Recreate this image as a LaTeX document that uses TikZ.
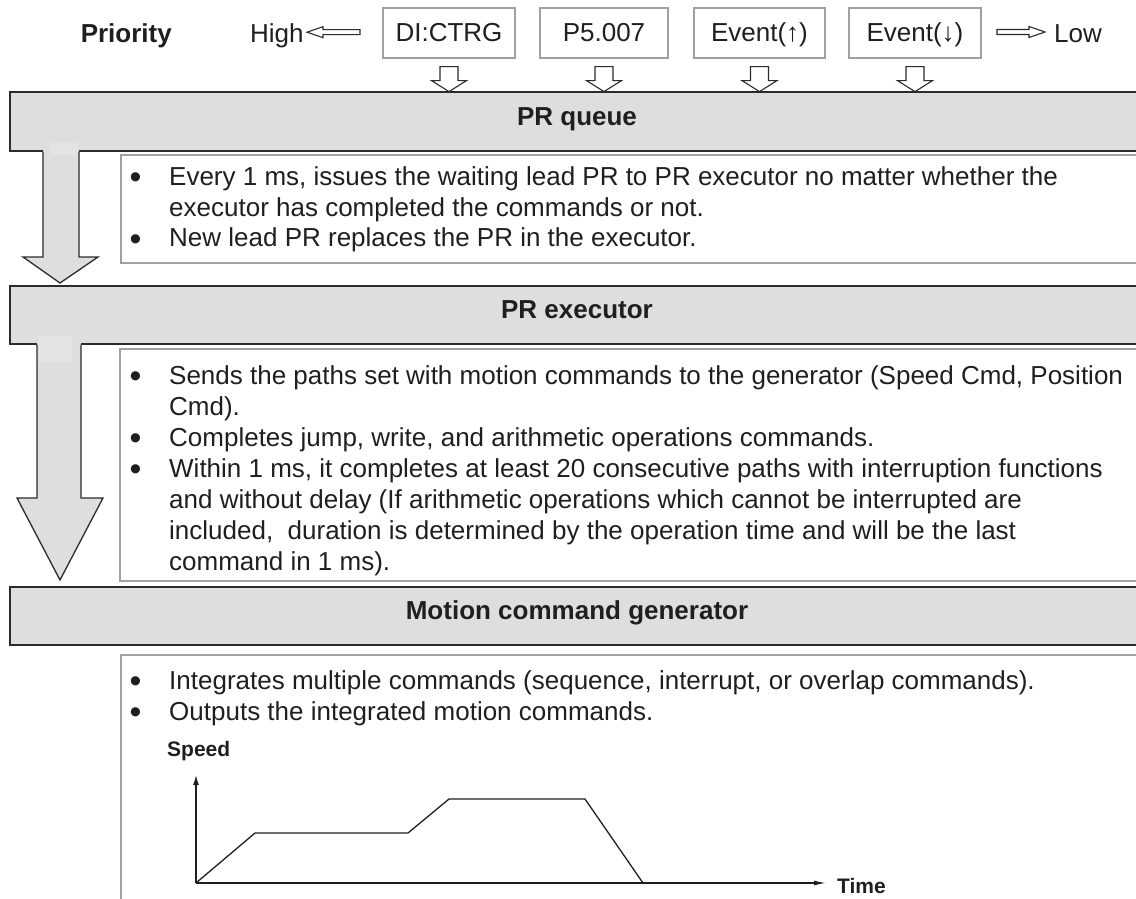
\documentclass[tikz,border=0pt]{standalone}
\usepackage{fontspec}
\setmainfont{Liberation Sans}
\usetikzlibrary{calc,arrows.meta}
\definecolor{bargray}{HTML}{DEDEDE}
\definecolor{lightpatch}{HTML}{E4E4E4}
\definecolor{edge}{HTML}{2B2B2B}
\definecolor{boxgray}{HTML}{A0A0A0}
\definecolor{txt}{HTML}{1F1F1F}
\newcommand\fbody{\fontsize{26}{31}\selectfont}
\newcommand\fhead{\fontsize{26}{31}\selectfont\bfseries}
\newcommand\fsmall{\fontsize{21}{25}\selectfont\bfseries}
\newcommand\bl{\makebox[39.5pt][l]{\raisebox{-3pt}{\scalebox{1.3}{\textbullet}}}}
\newcommand\ind{\hspace*{39.5pt}}
\begin{document}
\begin{tikzpicture}[x=1pt,y=-1pt,
  bar/.style={draw=edge, fill=bargray, line width=1.5pt, minimum width=1134pt,
    inner sep=0pt, font=\fhead, text=txt, text height=13pt, text depth=6pt},
  topbox/.style={draw=boxgray, fill=white, line width=1.2pt, minimum height=50pt,
    inner sep=0pt, text height=19pt, text depth=1.5pt, font=\fbody, text=txt},
  hollow/.style={draw=edge, fill=white, line width=1.1pt, line join=miter},
  bigarrowfill/.style={fill=bargray},
  bigarrowline/.style={draw=edge, line width=1.3pt, line join=miter},
  textframe/.style={draw=boxgray, line width=1.2pt},
  bodytext/.style={anchor=base west, inner sep=0pt, font=\fbody, text=txt},
  axis/.style={draw=txt, line width=1.3pt, line join=miter},
  basebar/.style={draw=edge, line width=2.5pt}]
\useasboundingbox (0,0) rectangle (1136,899);

% header row
\node[anchor=base east, inner sep=0pt, font=\fhead, text=txt] (pri) at (172,43) {Priority};
\node[anchor=base west, inner sep=0pt, font=\fbody, text=txt] (hi) at (250,42.5) {High};
\node[anchor=base west, inner sep=0pt, font=\fbody, text=txt] (lo) at (1054,42.5) {Low};
\node[topbox, minimum width=132pt] (b1) at (449,33) {DI:CTRG};
\node[topbox, minimum width=128pt] (b2) at (604,33) {P5.007};
\node[topbox, minimum width=131pt] (b3) at (759.5,33) {Event(↑)};
\node[topbox, minimum width=132pt] (b4) at (915,33) {Event(↓)};

% priority arrows
\draw[hollow] (307,32.2) -- (323,26.7) -- (323,29.7) -- (360,29.7) -- (360,34.7) -- (323,34.7) -- (323,37.7) -- cycle;
\draw[hollow] (1045,32) -- (1029,26.5) -- (1029,29.5) -- (997,29.5) -- (997,34.5) -- (1029,34.5) -- (1029,37.5) -- cycle;

% text frames
\draw[textframe] (121,155) rectangle (1150,263);
\draw[textframe] (120,349) rectangle (1150,581);
\draw[textframe] (121,655) rectangle (1150,910);

% bars
\node[bar, minimum height=59pt] (prq) at (577,121.5) {PR queue};
\node[bar, minimum height=58pt] (pre) at (577,315) {PR executor};
\node[bar, minimum height=58pt] (mcg) at (577,616) {Motion command generator};

% small down arrows from the source boxes into the queue
\foreach \b in {b1,b2,b3,b4}{
  \draw[hollow, shift={(\b.south)}] (-9,8) -- (-9,22) -- (-17.5,22) -- (0,33) -- (17.5,22) -- (9,22) -- (9,8) -- cycle;
  \draw[basebar] ($(\b.south)+(-19,33.5)$) -- ++(38,0);
}

% big arrows
\fill[bigarrowfill] (43,150) -- (43,257) -- (23,257) -- (60,283) -- (98,257) -- (79,257) -- (79,150) -- cycle;
\fill[lightpatch] (50,143) rectangle (78,155);
\draw[bigarrowline] (43,151.7) -- (43,257) -- (23,257) -- (60,283) -- (98,257) -- (79,257) -- (79,151.7);
\fill[bigarrowfill] (37,343) -- (37,498) -- (17,498) -- (60,580) -- (103,498) -- (81,498) -- (81,343) -- cycle;
\fill[lightpatch] (39,336) rectangle (72,362);
\draw[bigarrowline] (37,344.7) -- (37,498) -- (17,498) -- (60,580) -- (103,498) -- (81,498) -- (81,344.7);

% texts
\node[bodytext] (t1) at (129.5,185) {\parbox[t]{1000pt}{\bl Every 1 ms, issues the waiting lead PR to PR executor no matter whether the\\
\ind executor has completed the commands or not.\\
\bl New lead PR replaces the PR in the executor.}};
\node[bodytext] (t2) at (129.5,384) {\parbox[t]{1000pt}{\bl Sends the paths set with motion commands to the generator (Speed Cmd, Position\\
\ind Cmd).\\
\bl Completes jump, write, and arithmetic operations commands.\\
\bl Within 1 ms, it completes at least 20 consecutive paths with interruption functions\\
\ind and without delay (If arithmetic operations which cannot be interrupted are\\
\ind included,\ \ duration is determined by the operation time and will be the last\\
\ind command in 1 ms).}};
\node[bodytext] (t3) at (129.5,689) {\parbox[t]{1000pt}{\bl Integrates multiple commands (sequence, interrupt, or overlap commands).\\
\bl Outputs the integrated motion commands.}};

% speed chart
\coordinate (o) at (196,883);
\coordinate (ytop) at (196,775);
\coordinate (xend) at (826,883);
\draw[axis, -{Latex[length=10pt,width=6pt]}] (o) -- (ytop);
\draw[axis, -{Latex[length=12pt,width=5pt]}] (o) -- (xend);
\draw[axis] (o) -- (255,833) -- (408,833) -- (449,799) -- (585,799) -- (643,883);
\node[anchor=base west, inner sep=0pt, font=\fsmall, text=txt] (sp) at (167,756) {Speed};
\node[anchor=base west, inner sep=0pt, font=\fsmall, text=txt] (tm) at (837,893) {Time};
\end{tikzpicture}
\end{document}
